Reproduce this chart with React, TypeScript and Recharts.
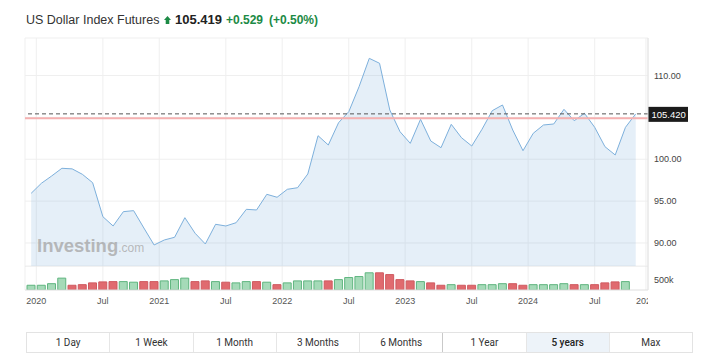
import React from "react";
import {
  ComposedChart, Area, Bar, Cell, XAxis, YAxis, CartesianGrid, ReferenceLine
} from "recharts";

// monthly closes, Dec 2019 .. Nov 2024
const closes = [
  95.93, 97.13, 98.0, 98.92, 98.85, 98.2, 97.2, 93.14, 92.03, 93.74,
  93.86, 91.79, 89.76, 90.36, 90.68, 93.02, 91.16, 89.88, 92.23, 92.03,
  92.42, 94.02, 93.94, 95.81, 95.46, 96.41, 96.6, 98.24, 102.81, 101.7,
  104.36, 105.68, 108.66, 112.05, 111.46, 105.88, 103.29, 101.9, 104.77, 102.18,
  101.38, 104.17, 102.57, 101.58, 103.58, 105.8, 106.48, 103.49, 101.02, 103.1,
  104.09, 104.21, 105.96, 104.6, 105.49, 103.81, 101.5, 100.51, 103.81, 105.42,
];

// monthly volume in thousands (last month has no bar yet)
const volumes: (number | null)[] = [
  240, 240, 320, 600, 240, 270, 360, 410, 425, 425,
  395, 425, 425, 460, 525, 600, 425, 460, 425, 395,
  360, 425, 425, 395, 270, 360, 460, 460, 460, 460,
  525, 630, 680, 870, 870, 780, 525, 460, 425, 360,
  240, 270, 240, 240, 270, 270, 320, 320, 240, 270,
  270, 270, 320, 270, 270, 270, 360, 410, 425, null,
];

const tickPos = [0.5, 7, 12.5, 19, 24.5, 31, 36.5, 43, 48.5, 55, 60];
const tickLabels = ["2020", "Jul", "2021", "Jul", "2022", "Jul", "2023", "Jul", "2024", "Jul", "2025"];
const priceTicks = [90, 95, 100, 105, 110];
const lastPrice = 105.42;
const prevClose = 104.89;
const ranges = ["1 Day", "1 Week", "1 Month", "3 Months", "6 Months", "1 Year", "5 years", "Max"];

const X_DOMAIN = [-0.6, 60.2];
const Y_DOMAIN = [87.25, 114.48];
const VOL_MAX = 1214000;
const FONT = "'Liberation Sans', Arial, sans-serif";
const UP_GREEN = "#1c8a45";

const priceData = closes.map((c, i) => ({ i, close: c }));
const volData = volumes.map((v, i) => ({
  i,
  vol: v == null ? null : v * 1000,
  up: i === 0 || closes[i] >= closes[i - 1],
}));

const PriceTick = ({ x, y, payload }: any) => {
  if (payload.value === 105) return null;
  return (
    <text x={x} y={y} dy="0.35em" fontSize={9} fill="#444" fontFamily={FONT}>
      {payload.value.toFixed(2)}
    </text>
  );
};

const VolTick = ({ x, y }: any) => (
  <text x={x} y={y} dy="0.35em" fontSize={9} fill="#444" fontFamily={FONT}>500k</text>
);

const DateTick = ({ x, payload }: any) => {
  const label = tickLabels[tickPos.indexOf(payload.value)];
  return (
    <svg x={0} y={0} width={648} height={45} overflow="hidden">
      <text x={x} y={37.5} textAnchor="middle" fontSize={9} fill="#555" fontFamily={FONT}>{label}</text>
    </svg>
  );
};

const LastLabel = ({ viewBox }: any) => {
  const x = viewBox.x + viewBox.width;
  const y = viewBox.y;
  return (
    <g>
      <rect x={x} y={y - 7} width={40} height={15} fill="#1b1b1b" />
      <text x={x + 3.5} y={y + 4} fontSize={9.5} fill="#fff" fontFamily={FONT}>{lastPrice.toFixed(3)}</text>
    </g>
  );
};

export default function App() {
  return (
    <div style={{ position: "absolute", left: 0, top: 0, width: 724, height: 360, background: "#fff" }}>
      {/* price pane */}
      <div style={{ position: "absolute", left: 0, top: 0 }}>
        <ComposedChart width={724} height={266} data={priceData} margin={{ top: 38, right: 0, left: 25, bottom: 0 }}>
          <CartesianGrid stroke="#efefef" />
          <XAxis dataKey="i" type="number" domain={X_DOMAIN} ticks={tickPos} hide allowDataOverflow />
          <YAxis orientation="right" width={76} domain={Y_DOMAIN} ticks={priceTicks} allowDataOverflow
            axisLine={{ stroke: "#e3e3e3" }} tickLine={false} tickSize={6} tickMargin={0} tick={<PriceTick />} />
          <Area type="linear" dataKey="close" stroke="#7db0dc" strokeWidth={1} fill="#7db0dc" fillOpacity={0.2}
            dot={false} activeDot={false} isAnimationActive={false} />
          <ReferenceLine y={prevClose} stroke="#f5b0b0" strokeWidth={2} />
          <ReferenceLine y={lastPrice} stroke="#555" strokeDasharray="4 3" label={<LastLabel />} />
        </ComposedChart>
      </div>

      {/* volume pane */}
      <div style={{ position: "absolute", left: 0, top: 266 }}>
        <ComposedChart width={724} height={45} data={volData} margin={{ top: 0, right: 0, left: 25, bottom: 0 }}>
          <CartesianGrid horizontal={false} stroke="#efefef" />
          <XAxis dataKey="i" type="number" domain={X_DOMAIN} ticks={tickPos} interval={0} height={21} allowDataOverflow
            axisLine={{ stroke: "#dedede" }} tickLine={false} tick={<DateTick />} />
          <YAxis orientation="right" width={76} domain={[0, VOL_MAX]} ticks={[500000]} allowDataOverflow
            axisLine={{ stroke: "#e3e3e3" }} tickLine={false} tickSize={6} tickMargin={0} tick={<VolTick />} />
          <ReferenceLine y={VOL_MAX} stroke="#e3e3e3" />
          <Bar dataKey="vol" barSize={8} isAnimationActive={false}>
            {volData.map((d) => (
              <Cell key={d.i} fill={d.up ? "#a5dab8" : "#e06a6f"} stroke={d.up ? "#5fb57f" : "#cf5a60"} strokeWidth={1} />
            ))}
          </Bar>
        </ComposedChart>
      </div>

      {/* header + watermark */}
      <svg width={724} height={360} style={{ position: "absolute", left: 0, top: 0, pointerEvents: "none" }}>
        <text x={26} y={24} fontSize={12.5} fill="#333" fontFamily={FONT}>US Dollar Index Futures</text>
        <polygon points="164,20 167.5,16 171,20 169.3,20 169.3,24 165.7,24 165.7,20" fill={UP_GREEN} />
        <text x={175} y={24} fontSize={13} fontWeight={700} fill="#222" fontFamily={FONT}>105.419</text>
        <text x={226} y={24} fontSize={12} fontWeight={700} fill={UP_GREEN} fontFamily={FONT}>+0.529</text>
        <text x={269} y={24} fontSize={12} fontWeight={700} fill={UP_GREEN} fontFamily={FONT}>(+0.50%)</text>
        <text x={37} y={251.5} fontSize={18.5} fontWeight={700} fill="#a5a5a5" fillOpacity={0.75} fontFamily={FONT}>
          Investing<tspan fontSize={12} fontWeight={400}>.com</tspan>
        </text>
      </svg>

      {/* range buttons */}
      <div style={{
        position: "absolute", left: 26, top: 332, width: 667, height: 21, boxSizing: "border-box",
        border: "1px solid #e3e3e3", display: "flex", fontFamily: "Roboto, sans-serif", fontSize: 10, color: "#333",
      }}>
        {ranges.map((r, i) => (
          <div key={r} style={{
            flex: 1, textAlign: "center", lineHeight: "19px",
            borderLeft: i === 0 ? "none" : `1px solid ${i === 5 ? "#c9c9c9" : "#e6e6e6"}`,
            background: r === "5 years" ? "#edf3f9" : "transparent",
            color: r === "5 years" ? "#222" : "#333",
            fontWeight: r === "5 years" ? 500 : 400,
          }}>{r}</div>
        ))}
      </div>
    </div>
  );
}
